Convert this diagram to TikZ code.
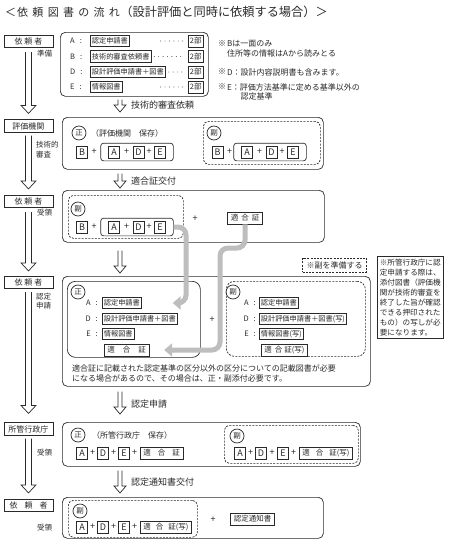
\documentclass[tikz,border=0pt]{standalone}
\usepackage{fontspec}
\setmainfont{Noto Sans CJK JP}
\usetikzlibrary{calc,fit,arrows.meta}
\definecolor{ink}{HTML}{2A2A2A}
\definecolor{garr}{HTML}{BEBEBE}
\newcommand{\hollowarr}[5]{%
  \draw[draw=ink, line width=0.7pt, line join=miter] let \p1=(#1), \p2=(#2) in
   (\x1-#3,\y1) -- (\x1-#3,\y2+#5) -- (\x1-#4,\y2+#5) -- (\x1,\y2) -- (\x1+#4,\y2+#5) -- (\x1+#3,\y2+#5) -- (\x1+#3,\y1);}
\tikzset{
  lbox/.style={draw=ink, line width=0.7pt, inner sep=0pt, minimum width=49pt, minimum height=12.5pt, font=\fontsize{8}{8}\selectfont, text=ink},
  cbox/.style={draw=ink, line width=0.7pt, rounded corners=5pt, inner sep=0pt, anchor=north west},
  dbox/.style={draw=ink, line width=0.7pt, dash pattern=on 2pt off 1.3pt, rounded corners=5pt, inner sep=0pt, anchor=north west},
  ltr/.style={draw=ink, line width=0.7pt, inner sep=0pt, minimum width=11pt, minimum height=12pt, font=\fontsize{9}{9}\selectfont, text=ink},
  doc/.style={draw=ink, line width=0.7pt, inner xsep=1.5pt, inner ysep=0pt, minimum height=11.5pt, font=\fontsize{7.2}{7.2}\selectfont, text=ink},
  docb/.style={doc, font=\fontsize{7.5}{7.5}\selectfont, inner xsep=3pt, minimum height=12pt},
  crc/.style={draw=ink, line width=0.7pt, circle, inner sep=0pt, minimum size=14pt, font=\fontsize{7.5}{7.5}\selectfont, text=ink},
  tx/.style={inner sep=0pt, font=\fontsize{7.5}{7.5}\selectfont, text=ink},
  nt/.style={inner sep=0pt, font=\fontsize{8}{8}\selectfont, text=ink, anchor=west},
  pl/.style={inner sep=0pt, font=\fontsize{9}{9}\selectfont, text=ink},
  grp/.style={draw=ink, line width=0.7pt, rounded corners=3pt, inner xsep=7.5pt, inner ysep=2.5pt},
  lead/.style={draw=ink, line width=0.9pt, dash pattern=on 0pt off 4.4pt, line cap=round},
  garrow/.style={draw=garr, line width=5pt, rounded corners=8pt, -{Triangle[width=13pt,length=8pt]}},
  mlab/.style={inner sep=0pt, anchor=west, font=\fontsize{9}{9}\selectfont, text=ink},
}
\begin{document}
\begin{tikzpicture}[x=1pt,y=-1pt]
\fill[white] (0,0) rectangle (448,547);
\useasboundingbox (0,0) rectangle (448,547);
% title
\node[anchor=west, inner sep=0pt, font=\fontsize{11}{11}\selectfont, text=ink] (ttl1) at (5,12) {＜\hspace{1pt}依\hspace{4.3pt}頼\hspace{4.3pt}図\hspace{4.3pt}書\hspace{4.3pt}の\hspace{4.3pt}流\hspace{4.3pt}れ};
\node[anchor=west, inner sep=0pt, font=\fontsize{12.2}{12}\selectfont, text=ink] (ttl2) at (ttl1.east) {（設計評価と同時に依頼する場合）＞};
% left column
\node[lbox] (L1) at (28.5,41.5) {依\hspace{2pt}頼\hspace{2pt}者};
\node[lbox] (L2) at (28.5,126) {評価機関};
\node[lbox] (L3) at (28.5,201.5) {依\hspace{2pt}頼\hspace{2pt}者};
\node[lbox] (L4) at (28.5,282.5) {依\hspace{2pt}頼\hspace{2pt}者};
\node[lbox] (L5) at (28.5,429) {所管行政庁};
\node[lbox] (L6) at (28.5,505.5) {依\hspace{7pt}頼\hspace{7pt}者};
\hollowarr{$(L1.south)+(0,4)$}{$(L2.north)+(0,-6)$}{3pt}{7.5pt}{8pt}
\hollowarr{$(L2.south)+(0,3)$}{$(L3.north)+(0,-6)$}{3pt}{7.5pt}{8pt}
\hollowarr{$(L3.south)+(0,4)$}{$(L4.north)+(0,-5)$}{3pt}{7.5pt}{8pt}
\hollowarr{$(L4.south)+(0,3)$}{$(L5.north)+(0,-9)$}{3pt}{7.5pt}{8pt}
\hollowarr{$(L5.south)+(0,3)$}{$(L6.north)+(0,-6)$}{3pt}{7.5pt}{8pt}
\node[tx, anchor=west] (s1) at (37,54) {準備};
\node[tx, anchor=west] (s2) at (36,145) {技術的};
\node[tx, anchor=west] (s2b) at (36,155) {審査};
\node[tx, anchor=west] (s3) at (37,213) {受領};
\node[tx, anchor=west] (s4) at (36,297) {認定};
\node[tx, anchor=west] (s4b) at (36,306) {申請};
\node[tx, anchor=west] (s5) at (37,453) {受領};
\node[tx, anchor=west] (s6) at (37,528) {受領};
% content boxes
\node[cbox, minimum width=148pt, minimum height=64pt] (C1) at (60,32) {};
\node[cbox, minimum width=261pt, minimum height=52pt] (C2) at (62,117) {};
\node[cbox, minimum width=262pt, minimum height=52pt] (C3) at (62,190) {};
\node[cbox, minimum width=308pt, minimum height=110pt] (C4) at (62,276) {};
\node[cbox, minimum width=298pt, minimum height=44pt] (C5) at (62,422) {};
\node[cbox, minimum width=261pt, minimum height=41pt] (C6) at (62,497) {};
% middle arrows
\coordinate (mx) at (120,0);
\hollowarr{$(C1.south -| mx)+(0,3)$}{$(C2.north -| mx)+(0,-5)$}{2pt}{6pt}{7pt}
\hollowarr{$(C2.south -| mx)+(0,4)$}{$(C3.north -| mx)+(0,-2)$}{2pt}{6pt}{7pt}
\hollowarr{$(C3.south -| mx)+(0,8)$}{$(C4.north -| mx)+(0,-3)$}{2pt}{6pt}{7pt}
\hollowarr{$(C4.south -| mx)+(0,5)$}{$(C5.north -| mx)+(0,-8)$}{2pt}{6pt}{7pt}
\hollowarr{$(C5.south -| mx)+(0,4)$}{$(C6.north -| mx)+(0,-4)$}{2pt}{6pt}{7pt}
\node[mlab] (ml1) at (131,105) {技術的審査依頼};
\node[mlab] (ml2) at (131,181) {適合証交付};
\node[mlab] (ml4) at (131,404) {認定申請};
\node[mlab] (ml5) at (131,482) {認定通知書交付};
% C1
\node[tx, anchor=west] (kA1) at (70,41) {A\hspace{5pt}:};
\node[tx, anchor=west] (kB1) at (70,56.5) {B\hspace{5pt}:};
\node[tx, anchor=west] (kD1) at (70,72) {D\hspace{5pt}:};
\node[tx, anchor=west] (kE1) at (70,87) {E\hspace{5pt}:};
\node[doc, anchor=west] (dA1) at (90,41) {認定申請書};
\node[doc, anchor=west] (dB1) at (90,56.5) {技術的審査依頼書};
\node[doc, anchor=west] (dD1) at (90,72) {設計評価申請書＋図書};
\node[doc, anchor=west] (dE1) at (90,87) {情報図書};
\node[docb, anchor=east, inner xsep=2pt] (nA1) at (204,41) {2部};
\node[docb, anchor=east, inner xsep=2pt] (nB1) at (204,56.5) {2部};
\node[docb, anchor=east, inner xsep=2pt] (nD1) at (204,72) {2部};
\node[docb, anchor=east, inner xsep=2pt] (nE1) at (204,87) {2部};
\draw[lead] ($(nA1.west)+(-27,0)$) -- ($(nA1.west)+(-3,0)$);
\draw[lead] ($(dB1.east)+(3,0)$) -- ($(nB1.west)+(-3,0)$);
\draw[lead] ($(dD1.east)+(3,0)$) -- ($(nD1.west)+(-3,0)$);
\draw[lead] ($(nE1.west)+(-27,0)$) -- ($(nE1.west)+(-3,0)$);
% notes
\node[nt] (n1a) at (218,44) {※};
\node[nt] (n1b) at (227,44) {Bは一面のみ};
\node[nt] (n1c) at (227,53) {住所等の情報はAから読みとる};
\node[nt] (n2a) at (218,72) {※};
\node[nt] (n2b) at (227,72) {D：設計内容説明書も含みます。};
\node[nt] (n3a) at (218,87) {※};
\node[nt] (n3b) at (227,87) {E：評価方法基準に定める基準以外の};
\node[nt] (n3c) at (240.5,96) {認定基準};
% C2
\node[crc] (c2s) at (79,133) {正};
\node[nt] (c2t) at (91,133) {（評価機関　保存）};
\node[ltr] (b2) at (82,152) {B};
\node[pl] (p21) at (94,152) {+};
\node[ltr] (a2) at (114,152) {A};
\node[pl] (p22) at (126.5,152) {+};
\node[ltr] (d2) at (138.5,152) {D};
\node[pl] (p23) at (149,152) {+};
\node[ltr] (e2) at (160,152) {E};
\node[grp, fit=(a2)(e2)] (g2) {};
\node[dbox, minimum width=117pt, minimum height=43pt] (C2f) at (203,121) {};
\node[crc] (c2f) at (214,133) {副};
\node[ltr] (b2f) at (217.5,152) {B};
\node[pl] (p21f) at (229.5,152) {+};
\node[ltr] (a2f) at (247,152) {A};
\node[pl] (p22f) at (259.5,152) {+};
\node[ltr] (d2f) at (271.5,152) {D};
\node[pl] (p23f) at (282,152) {+};
\node[ltr] (e2f) at (293,152) {E};
\node[grp, fit=(a2f)(e2f)] (g2f) {};
% C3
\node[dbox, minimum width=115pt, minimum height=43pt] (C3f) at (68,195) {};
\node[crc] (c3f) at (78,209) {副};
\node[ltr] (b3) at (82,227) {B};
\node[pl] (p31) at (94,227) {+};
\node[ltr] (a3) at (114,227) {A};
\node[pl] (p32) at (126.5,227) {+};
\node[ltr] (d3) at (138.5,227) {D};
\node[pl] (p33) at (149,227) {+};
\node[ltr] (e3) at (160,227) {E};
\node[grp, fit=(a3)(e3)] (g3) {};
\node[pl] (p3x) at (195,219) {+};
\node[docb] (tk3) at (245,218) {適\hspace{3pt}合\hspace{3pt}証};
% C4
\node[cbox, rounded corners=8pt, minimum width=133pt, minimum height=76pt] (C4s) at (67,281) {};
\node[crc] (c4s) at (78,292) {正};
\node[tx, anchor=east] (k4A) at (98,303) {A\hspace{5pt}:};
\node[tx, anchor=east] (k4D) at (98,319) {D\hspace{5pt}:};
\node[tx, anchor=east] (k4E) at (98,334) {E\hspace{5pt}:};
\node[doc, anchor=west] (dA4) at (102,303) {認定申請書};
\node[doc, anchor=west] (dD4) at (102,319) {設計評価申請書＋図書};
\node[doc, anchor=west] (dE4) at (102,334) {情報図書};
\node[docb, anchor=west] (tk4) at (104,350) {適\hspace{8pt}合\hspace{8pt}証};
\node[pl] (p4x) at (212,320) {+};
\node[dbox, rounded corners=8pt, minimum width=139pt, minimum height=75pt] (C4f) at (226,281) {};
\node[crc] (c4f) at (233,292) {副};
\node[tx, anchor=east] (k4Af) at (256,303) {A\hspace{5pt}:};
\node[tx, anchor=east] (k4Df) at (256,319) {D\hspace{5pt}:};
\node[tx, anchor=east] (k4Ef) at (256,334) {E\hspace{5pt}:};
\node[doc, anchor=west] (dA4f) at (259,303) {認定申請書};
\node[doc, anchor=west] (dD4f) at (259,319) {設計評価申請書＋図書(写)};
\node[doc, anchor=west] (dE4f) at (259,334) {情報図書(写)};
\node[docb, anchor=west] (tk4f) at (261,350) {適\hspace{3pt}合\hspace{2pt}証(写)};
\node[nt] (c4t1) at (72,368) {適合証に記載された認定基準の区分以外の区分についての記載図書が必要};
\node[nt] (c4t2) at (72,378) {になる場合があるので、その場合は、正・副添付必要です。};
% side notes
\node[draw=ink, line width=0.7pt, dash pattern=on 2pt off 1.3pt, inner xsep=4pt, inner ysep=0pt, minimum height=14pt, font=\fontsize{8}{8}\selectfont, text=ink] (junbi) at (334.5,265) {※副を準備する};
\node[draw=ink, line width=0.7pt, anchor=north west, inner sep=2.5pt, align=left, font=\fontsize{7.6}{10}\selectfont, text=ink] (note) at (377,256) {※所管行政庁に認\\定申請する際は、\\添付図書（評価機\\関が技術的審査を\\終了した旨が確認\\できる押印された\\もの）の写しが必\\要になります。};
% C5
\node[crc] (c5s) at (78,435) {正};
\node[nt] (c5t) at (92,435) {（所管行政庁　保存）};
\node[ltr] (a5) at (82,453) {A};
\node[pl] (p51) at (92.5,453) {+};
\node[ltr] (d5) at (103,453) {D};
\node[pl] (p52) at (113.5,453) {+};
\node[ltr] (e5) at (124,453) {E};
\node[pl] (p53) at (134.5,453) {+};
\node[docb, anchor=west] (tk5) at (140,453) {適\hspace{7pt}合\hspace{7pt}証};
\node[dbox, minimum width=134pt, minimum height=38pt] (C5f) at (224,425) {};
\node[crc] (c5f) at (237,436) {副};
\node[ltr] (a5f) at (240,453) {A};
\node[pl] (p51f) at (250.5,453) {+};
\node[ltr] (d5f) at (261,453) {D};
\node[pl] (p52f) at (272,453) {+};
\node[ltr] (e5f) at (283,453) {E};
\node[pl] (p53f) at (293.5,453) {+};
\node[docb, anchor=west] (tk5f) at (299,453) {適\hspace{6pt}合\hspace{6pt}証(写)};
% C6
\node[dbox, minimum width=129pt, minimum height=37pt] (C6f) at (68,500) {};
\node[crc] (c6f) at (80,511) {副};
\node[ltr] (a6) at (82,527) {A};
\node[pl] (p61) at (92.5,527) {+};
\node[ltr] (d6) at (103,527) {D};
\node[pl] (p62) at (113.5,527) {+};
\node[ltr] (e6) at (124,527) {E};
\node[pl] (p63) at (134.5,527) {+};
\node[docb, anchor=west] (tk6) at (140,527) {適\hspace{5pt}合\hspace{5pt}証(写)};
\node[pl] (p6x) at (213,520) {+};
\node[docb] (tsu) at (252.5,519) {認定通知書};
% gray arrows
\coordinate (gx1) at (186,0);
\coordinate (gb) at (220,248);
\draw[garrow] (g3.east) -| (gx1 |- dA4) -- ($(dA4.east)+(31,0)$);
\draw[garrow] (tk3.south) |- (gb) |- ($(tk4.east)+(15,0)$);
\end{tikzpicture}
\end{document}
